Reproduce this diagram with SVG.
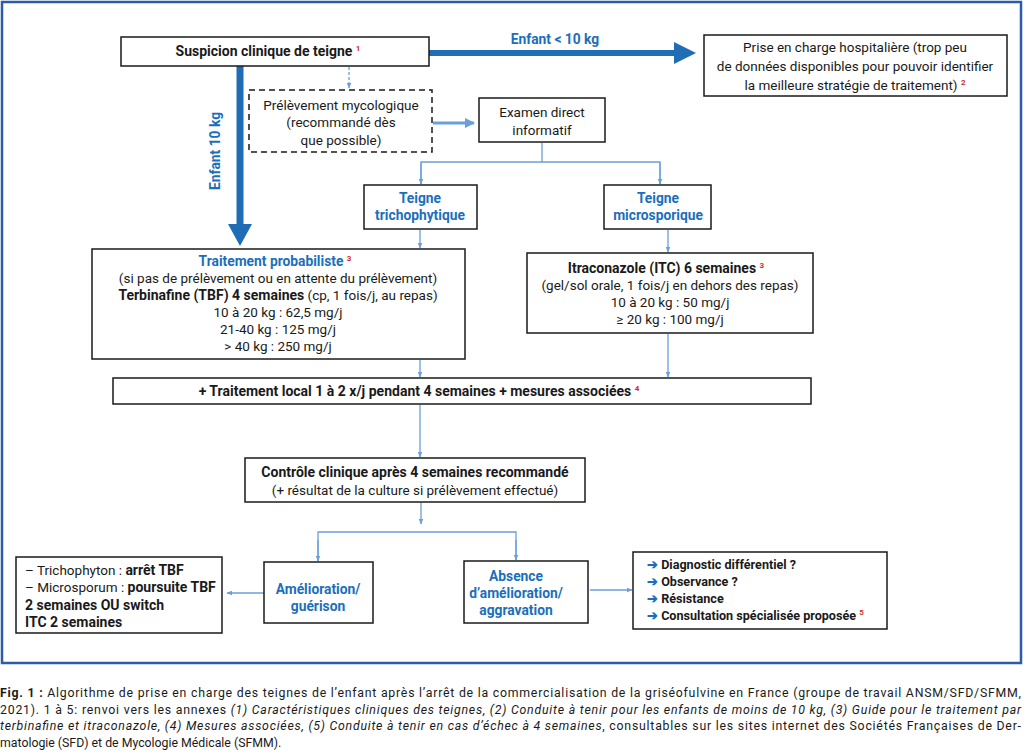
<svg xmlns="http://www.w3.org/2000/svg" width="1024" height="752" viewBox="0 0 1024 752">
<style>
text{font-family:"Roboto","Liberation Sans",sans-serif;font-size:13.5px;fill:#1a1a1a}
.b{font-weight:bold;font-size:14px}
.bl{fill:#1b6fba;font-weight:bold;font-size:13.8px}
.c{text-anchor:middle}
.sup{fill:#d42a2a;font-size:8px;font-weight:bold}
.box{fill:#fff;stroke:#1a1a1a;stroke-width:1.5}
.dash{fill:#fff;stroke:#1a1a1a;stroke-width:1.5;stroke-dasharray:6 4}
.ln{fill:none;stroke:#6a9fd8;stroke-width:1.3}
.cap{font-size:12.3px}
.it{font-style:italic}
.sm{font-size:12.6px;font-weight:bold}
</style>
<defs>
<marker id="ah" viewBox="0 0 10 10" refX="9" refY="5" markerWidth="6" markerHeight="6" markerUnits="userSpaceOnUse" orient="auto"><path d="M0,1 L10,5 L0,9 z" fill="#6a9fd8"/></marker>
<marker id="ah2" viewBox="0 0 10 10" refX="9" refY="5" markerWidth="10" markerHeight="10" markerUnits="userSpaceOnUse" orient="auto"><path d="M0,0 L10,5 L0,10 z" fill="#6a9fd8"/></marker>
</defs>
<rect x="0" y="0" width="1024" height="752" fill="#fff"/>
<rect x="2" y="2" width="1019" height="661" fill="#fff" stroke="#2a5ca8" stroke-width="2.5"/>

<g id="connectors">
<line x1="429" y1="53" x2="676" y2="53" stroke="#1f6db5" stroke-width="6"/>
<path d="M674,42 L696,53 L674,64 z" fill="#1f6db5"/>
<text class="bl c" x="555" y="44">Enfant &lt; 10 kg</text>
<line x1="240" y1="66" x2="240" y2="226" stroke="#1f6db5" stroke-width="7"/>
<path d="M228,224 L240,246 L252,224 z" fill="#1f6db5"/>
<text class="bl c" transform="translate(220,151) rotate(-90)" x="0" y="0">Enfant  10 kg</text>
<line x1="349" y1="67" x2="349" y2="88" stroke="#6a9fd8" stroke-width="1.3" stroke-dasharray="3 2" marker-end="url(#ah)"/>
<line x1="433" y1="123" x2="474" y2="123" stroke="#6a9fd8" stroke-width="3" marker-end="url(#ah2)"/>
<path class="ln" d="M542,143 V162"/>
<path class="ln" d="M421,184 V162 H660 V184"/>
<path d="M421,163 V184" class="ln" marker-end="url(#ah)"/>
<path d="M660,163 V184" class="ln" marker-end="url(#ah)"/>
<path d="M420,230 V248" class="ln" marker-end="url(#ah)"/>
<path d="M668,230 V252" class="ln" marker-end="url(#ah)"/>
<path d="M420,360 V377" class="ln" marker-end="url(#ah)"/>
<path d="M668,334 V377" class="ln" marker-end="url(#ah)"/>
<path d="M420,405 V457" class="ln" marker-end="url(#ah)"/>
<path d="M421,503 V524" class="ln" marker-end="url(#ah)"/>
<path d="M318,561 V532 H516 V560" class="ln"/>
<path d="M318,540 V561" class="ln" marker-end="url(#ah)"/>
<path d="M516,540 V560" class="ln" marker-end="url(#ah)"/>
<path d="M264,593 H227" class="ln" marker-end="url(#ah)"/>
<path d="M590,590 H632" class="ln" marker-end="url(#ah)"/>
</g>

<g id="suspicion">
<rect class="box" x="121" y="37" width="308" height="29"/>
<text class="b c" x="268" y="56">Suspicion clinique de teigne <tspan class="sup" dy="-5">1</tspan></text>
</g>

<g id="hospit">
<rect class="box" x="704" y="35" width="303" height="61"/>
<text class="c" x="855" y="52">Prise en charge hospitalière (trop peu</text>
<text class="c" x="855" y="71">de données disponibles pour pouvoir identifier</text>
<text class="c" x="855" y="90">la meilleure stratégie de traitement) <tspan class="sup" dy="-5">2</tspan></text>
</g>

<g id="prelevement">
<rect class="dash" x="249" y="90" width="183" height="62"/>
<text class="c" x="341" y="110">Prélèvement mycologique</text>
<text class="c" x="341" y="127">(recommandé dès</text>
<text class="c" x="341" y="145">que possible)</text>
</g>

<g id="examen">
<rect class="box" x="479" y="98" width="126" height="44"/>
<text class="c" x="542" y="117">Examen direct</text>
<text class="c" x="542" y="135">informatif</text>
</g>

<g id="tricho">
<rect class="box" x="364" y="185" width="113" height="44"/>
<text class="bl c" x="420" y="203">Teigne</text>
<text class="bl c" x="420" y="220">trichophytique</text>
</g>

<g id="micro">
<rect class="box" x="604" y="185" width="107" height="44"/>
<text class="bl c" x="658" y="203">Teigne</text>
<text class="bl c" x="658" y="220">microsporique</text>
</g>

<g id="probabiliste">
<rect class="box" x="92" y="249" width="373" height="110"/>
<text class="bl c" x="275" y="266">Traitement probabiliste <tspan class="sup" dy="-5">3</tspan></text>
<text class="c" x="278" y="283">(si pas de prélèvement ou en attente du prélèvement)</text>
<text class="c" x="278" y="300"><tspan class="b">Terbinafine (TBF) 4 semaines</tspan> (cp, 1 fois/j, au repas)</text>
<text class="c" x="278" y="317">10 à 20 kg : 62,5 mg/j</text>
<text class="c" x="278" y="334">21-40 kg : 125 mg/j</text>
<text class="c" x="278" y="351">&gt; 40 kg : 250 mg/j</text>
</g>

<g id="itraconazole">
<rect class="box" x="527" y="253" width="286" height="80"/>
<text class="b c" x="666" y="273">Itraconazole (ITC) 6 semaines <tspan class="sup" dy="-5">3</tspan></text>
<text class="c" x="670" y="290">(gel/sol orale, 1 fois/j en dehors des repas)</text>
<text class="c" x="670" y="307">10 à 20 kg : 50 mg/j</text>
<text class="c" x="670" y="324">≥ 20 kg : 100 mg/j</text>
</g>

<g id="local">
<rect class="box" x="113" y="378" width="698" height="26"/>
<text class="b c" x="419" y="396">+ Traitement local 1 à 2 x/j pendant 4 semaines + mesures associées <tspan class="sup" dy="-5">4</tspan></text>
</g>

<g id="controle">
<rect class="box" x="245" y="458" width="340" height="44"/>
<text class="b c" x="415" y="477">Contrôle clinique après 4 semaines recommandé</text>
<text class="c" x="415" y="495">(+ résultat de la culture si prélèvement effectué)</text>
</g>

<g id="amelioration">
<rect class="box" x="264" y="562" width="109" height="61"/>
<text class="bl c" x="318" y="594">Amélioration/</text>
<text class="bl c" x="318" y="611">guérison</text>
</g>

<g id="absence">
<rect class="box" x="464" y="561" width="124" height="62"/>
<text class="bl c" x="516" y="581">Absence</text>
<text class="bl c" x="516" y="598">d’amélioration/</text>
<text class="bl c" x="516" y="615">aggravation</text>
</g>

<g id="resultat">
<rect class="box" x="16" y="557" width="206" height="76"/>
<text x="25" y="575">– Trichophyton : <tspan class="b">arrêt TBF</tspan></text>
<text x="25" y="592">– Microsporum : <tspan class="b">poursuite TBF</tspan></text>
<text class="b" x="25" y="610">2 semaines OU switch</text>
<text class="b" x="25" y="627">ITC 2 semaines</text>
</g>

<g id="echec">
<rect class="box" x="633" y="552" width="254" height="77"/>
<text class="sm" x="647" y="569"><tspan fill="#1b6fba">➔</tspan> Diagnostic différentiel ?</text>
<text class="sm" x="647" y="586"><tspan fill="#1b6fba">➔</tspan> Observance ?</text>
<text class="sm" x="647" y="603"><tspan fill="#1b6fba">➔</tspan> Résistance</text>
<text class="sm" x="647" y="620"><tspan fill="#1b6fba">➔</tspan> Consultation spécialisée proposée <tspan class="sup" dy="-5">5</tspan></text>
</g>

<g id="caption">
<text class="cap" x="0" y="697" textLength="1021" lengthAdjust="spacing"><tspan class="b" style="font-size:12.3px">Fig. 1 :</tspan> Algorithme de prise en charge des teignes de l’enfant après l’arrêt de la commercialisation de la griséofulvine en France (groupe de travail ANSM/SFD/SFMM,</text>
<text class="cap" x="0" y="713.5" textLength="1021" lengthAdjust="spacing">2021). 1 à 5: renvoi vers les annexes <tspan class="it">(1) Caractéristiques cliniques des teignes, (2) Conduite à tenir pour les enfants de moins de 10 kg, (3) Guide pour le traitement par</tspan></text>
<text class="cap" x="0" y="730" textLength="1021" lengthAdjust="spacing"><tspan class="it">terbinafine et itraconazole, (4) Mesures associées, (5) Conduite à tenir en cas d’échec à 4 semaines</tspan>, consultables sur les sites internet des Sociétés Françaises de Der-</text>
<text class="cap" x="0" y="746.5">matologie (SFD) et de Mycologie Médicale (SFMM).</text>
</g>
</svg>
